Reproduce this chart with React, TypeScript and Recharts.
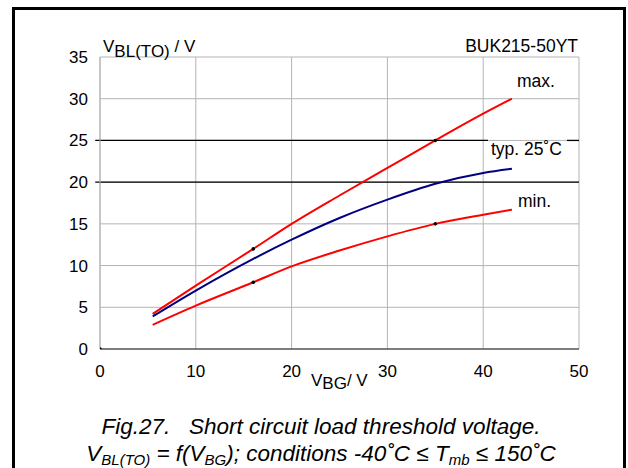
import React from 'react';
import {
  ComposedChart,
  Line,
  Scatter,
  XAxis,
  YAxis,
  CartesianGrid,
  ReferenceLine,
} from 'recharts';

// V_BG (V) sample points, shared by the three curves
const vbg = [5.5, 10, 16, 20, 25, 30, 35, 40, 43];
const maxVbl = [4.2, 7.6, 12, 15.0, 18.4, 21.7, 25, 28.2, 30];
const typVbl = [3.9, 7.0, 10.8, 13.1, 15.7, 17.9, 19.8, 21.1, 21.6];
const minVbl = [2.9, 5.2, 8.0, 9.9, 11.8, 13.5, 15.0, 16.1, 16.7];

// small black marker dots on the curves
const markX = [16, 16, 35, 35, 0];
const markY = [12, 8, 25, 15, 0];

const xTicks = [0, 10, 20, 30, 40, 50];
const yTicks = [0, 5, 10, 15, 20, 25, 30, 35];

const FONT = '"Liberation Sans", Arial, sans-serif';

const toPoints = (ys: number[]) => vbg.map((x, i) => ({ x, y: ys[i] }));
const marks = markX.map((x, i) => ({ x, y: markY[i] }));

const Dot = (props: any) => <circle cx={props.cx} cy={props.cy} r={1.8} fill="#000" />;

export default function App() {
  return (
    <div
      style={{
        position: 'absolute',
        left: 0,
        top: 0,
        width: 628,
        height: 468,
        background: '#fff',
        overflow: 'hidden',
        fontFamily: FONT,
      }}
    >
      <ComposedChart
        width={628}
        height={468}
        margin={{ top: 57, right: 49, left: 0, bottom: 89 }}
      >
        <CartesianGrid stroke="#b4b4b4" strokeWidth={1} />
        <XAxis
          type="number"
          dataKey="x"
          domain={[0, 50]}
          ticks={xTicks}
          height={30}
          tickSize={0}
          tickMargin={16}
          axisLine={{ stroke: '#222', strokeWidth: 1 }}
          tickLine={false}
          tick={{ fill: '#000', fontSize: 17, fontFamily: FONT }}
          allowDataOverflow
        />
        <YAxis
          type="number"
          dataKey="y"
          domain={[0, 35]}
          ticks={yTicks}
          width={100}
          tickSize={0}
          tickMargin={12}
          axisLine={{ stroke: '#b4b4b4', strokeWidth: 1 }}
          tickLine={false}
          tick={{ fill: '#000', fontSize: 17, fontFamily: FONT }}
          allowDataOverflow
        />
        <ReferenceLine
          segment={[{ x: -0.5, y: 20 }, { x: 50, y: 20 }]}
          stroke="#000"
          strokeWidth={1.3}
          ifOverflow="visible"
        />
        <ReferenceLine
          segment={[{ x: -0.5, y: 25 }, { x: 40.5, y: 25 }]}
          stroke="#000"
          strokeWidth={1.3}
          ifOverflow="visible"
        />
        <ReferenceLine
          segment={[{ x: 48.75, y: 25 }, { x: 50, y: 25 }]}
          stroke="#000"
          strokeWidth={1.3}
          ifOverflow="visible"
        />
        <Line
          data={toPoints(maxVbl)}
          dataKey="y"
          type="monotone"
          stroke="#ff0000"
          strokeWidth={2}
          dot={false}
          isAnimationActive={false}
        />
        <Line
          data={toPoints(typVbl)}
          dataKey="y"
          type="monotone"
          stroke="#000080"
          strokeWidth={2}
          dot={false}
          isAnimationActive={false}
        />
        <Line
          data={toPoints(minVbl)}
          dataKey="y"
          type="monotone"
          stroke="#ff0000"
          strokeWidth={2}
          dot={false}
          isAnimationActive={false}
        />
        <Scatter data={marks} dataKey="y" shape={Dot} isAnimationActive={false} />
      </ComposedChart>

      <svg
        width={628}
        height={468}
        style={{ position: 'absolute', left: 0, top: 0, pointerEvents: 'none' }}
        fontFamily={FONT}
      >
        <rect x={13.5} y={8.5} width={611} height={480} fill="none" stroke="#000" strokeWidth={3} />

        <text x={103} y={52} fontSize={17}>
          <tspan>V</tspan>
          <tspan dy={4.5}>BL(TO)</tspan>
          <tspan dy={-4.5}> / V</tspan>
        </text>
        <text x={578} y={52} fontSize={17.5} textAnchor="end">BUK215-50YT</text>

        <text x={517} y={87} fontSize={17.5}>max.</text>
        <text x={491} y={155} fontSize={17.5}>typ. 25˚C</text>
        <text x={518} y={207} fontSize={17.5}>min.</text>

        <text x={311} y={386} fontSize={17}>
          <tspan>V</tspan>
          <tspan dy={3}>BG</tspan>
          <tspan dy={-3}>/ V</tspan>
        </text>

        <text x={321} y={434} fontSize={22.5} fontStyle="italic" textAnchor="middle">
          Fig.27.{'\u00a0\u00a0\u00a0'}Short circuit load threshold voltage.
        </text>
        <text x={321} y={461} fontSize={22.5} fontStyle="italic" textAnchor="middle">
          <tspan>V</tspan>
          <tspan fontSize={15} dy={4}>BL(TO)</tspan>
          <tspan dy={-4}> = f(V</tspan>
          <tspan fontSize={15} dy={4}>BG</tspan>
          <tspan dy={-4}>); conditions -40˚C ≤ T</tspan>
          <tspan fontSize={15} dy={4}>mb</tspan>
          <tspan dy={-4}> ≤ 150˚C</tspan>
        </text>
      </svg>
    </div>
  );
}
